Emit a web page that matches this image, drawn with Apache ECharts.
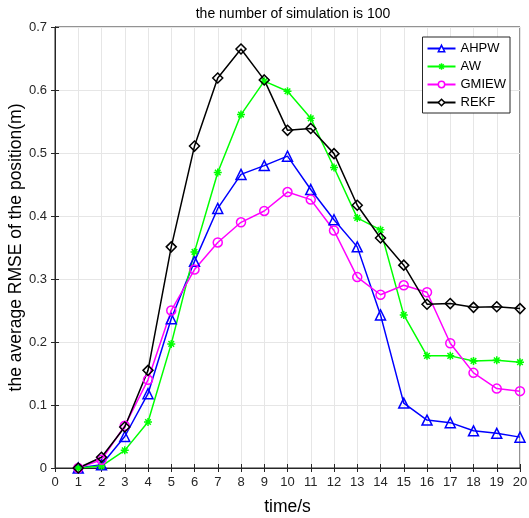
<!DOCTYPE html>
<html><head><meta charset="utf-8">
<script src="https://cdn.jsdelivr.net/npm/echarts@6/dist/echarts.min.js"></script>
<style>html,body{margin:0;padding:0;background:#fff}#c{width:529px;height:518px}</style>
</head><body><div id="c"></div>
<script>
const times = [1,2,3,4,5,6,7,8,9,10,11,12,13,14,15,16,17,18,19,20];
const ahpw = [0,0.005,0.05,0.118,0.237,0.328,0.412,0.466,0.48,0.495,0.442,0.394,0.351,0.243,0.103,0.076,0.072,0.059,0.055,0.049];
const aw = [0,0.003,0.028,0.073,0.197,0.343,0.469,0.561,0.614,0.598,0.555,0.477,0.397,0.378,0.243,0.178,0.178,0.17,0.171,0.168];
const gmiew = [0,0.013,0.067,0.14,0.25,0.315,0.358,0.39,0.408,0.438,0.426,0.377,0.303,0.275,0.29,0.279,0.198,0.151,0.126,0.122];
const rekf = [0,0.017,0.065,0.155,0.351,0.511,0.619,0.665,0.616,0.536,0.539,0.499,0.417,0.365,0.322,0.26,0.261,0.255,0.256,0.253];
const names = ['AHPW','AW','GMIEW','REKF'];
const colors = ['#0000ff','#00ff00','#ff00ff','#000000'];
const title = 'the number of simulation is 100';
const xLabel = 'time/s';
const yLabel = 'the average RMSE of the position(m)';

const star = 'path://M0,-10L0,10M-10,0L10,0M-7,-7L7,7M-7,7L7,-7';
function mk(name, data, color, symbol, size){
  return {name, type:'line', data: data.map((v,i)=>[times[i],v]),
    symbol, symbolSize:size, showSymbol:true,
    lineStyle:{color, width:1.5},
    itemStyle:{color:'rgba(255,255,255,0)', borderColor:color, borderWidth:1.5},
    emphasis:{disabled:true}, animation:false, z:3};
}
const font = 'Arial, Liberation Sans, sans-serif';
const chart = echarts.init(document.getElementById('c'));
const axLine = {lineStyle:{color:'#262626', width:1}};
chart.setOption({
  backgroundColor:'#fff',
  animation:false,
  title:{text:title, left:288, top:2, textAlign:'center', textStyle:{fontFamily:font, fontSize:14, fontWeight:'normal', color:'#000'}},
  grid:{left:55, right:9, top:27, bottom:50, show:true, borderColor:'#262626', borderWidth:1, outerBoundsMode:'none', containLabel:false},
  legend:{right:19, top:37, orient:'vertical', itemWidth:28, itemHeight:8, itemGap:5,
    backgroundColor:'#fff', borderColor:'#262626', borderWidth:1, padding:[5,4,4,4],
    textStyle:{fontFamily:font, fontSize:13, color:'#000'},
    data:names.map((n,i)=>({name:n, itemStyle:{color:'#ffffff', borderColor:colors[i], borderWidth:1.5}}))},
  xAxis:[{type:'value', min:0, max:20, interval:1, position:'bottom',
    name:xLabel, nameLocation:'middle', nameGap:30, nameMoveOverlap:false, nameTextStyle:{fontFamily:font, fontSize:17.5, color:'#000'},
    axisLine:axLine, axisTick:{inside:true, length:4, lineStyle:{color:'#262626'}},
    axisLabel:{fontFamily:font, fontSize:13, color:'#262626', margin:8},
    splitLine:{show:true, lineStyle:{color:'#e6e6e6', width:1}}},
    {type:'value', min:0, max:20, interval:1, position:'top', axisLine:axLine,
    axisTick:{inside:true, length:4, lineStyle:{color:'#262626'}}, axisLabel:{show:false}, splitLine:{show:false}}],
  yAxis:[{type:'value', min:0, max:0.7, interval:0.1, position:'left',
    name:yLabel, nameLocation:'middle', nameGap:30, nameMoveOverlap:false, nameTextStyle:{fontFamily:font, fontSize:17.5, color:'#000'},
    axisLine:axLine, axisTick:{inside:true, length:4, lineStyle:{color:'#262626'}},
    axisLabel:{fontFamily:font, fontSize:13, color:'#262626', margin:8, formatter:v=>String(+v.toFixed(1))},
    splitLine:{show:true, lineStyle:{color:'#e6e6e6', width:1}}},
    {type:'value', min:0, max:0.7, interval:0.1, position:'right', axisLine:axLine,
    axisTick:{inside:true, length:4, lineStyle:{color:'#262626'}}, axisLabel:{show:false}, splitLine:{show:false}}],
  series:[
    mk(names[0], ahpw, colors[0], 'triangle', 10),
    mk(names[1], aw, colors[1], star, 8),
    mk(names[2], gmiew, colors[2], 'circle', 9),
    mk(names[3], rekf, colors[3], 'diamond', 10)
  ]
});
</script></body></html>
